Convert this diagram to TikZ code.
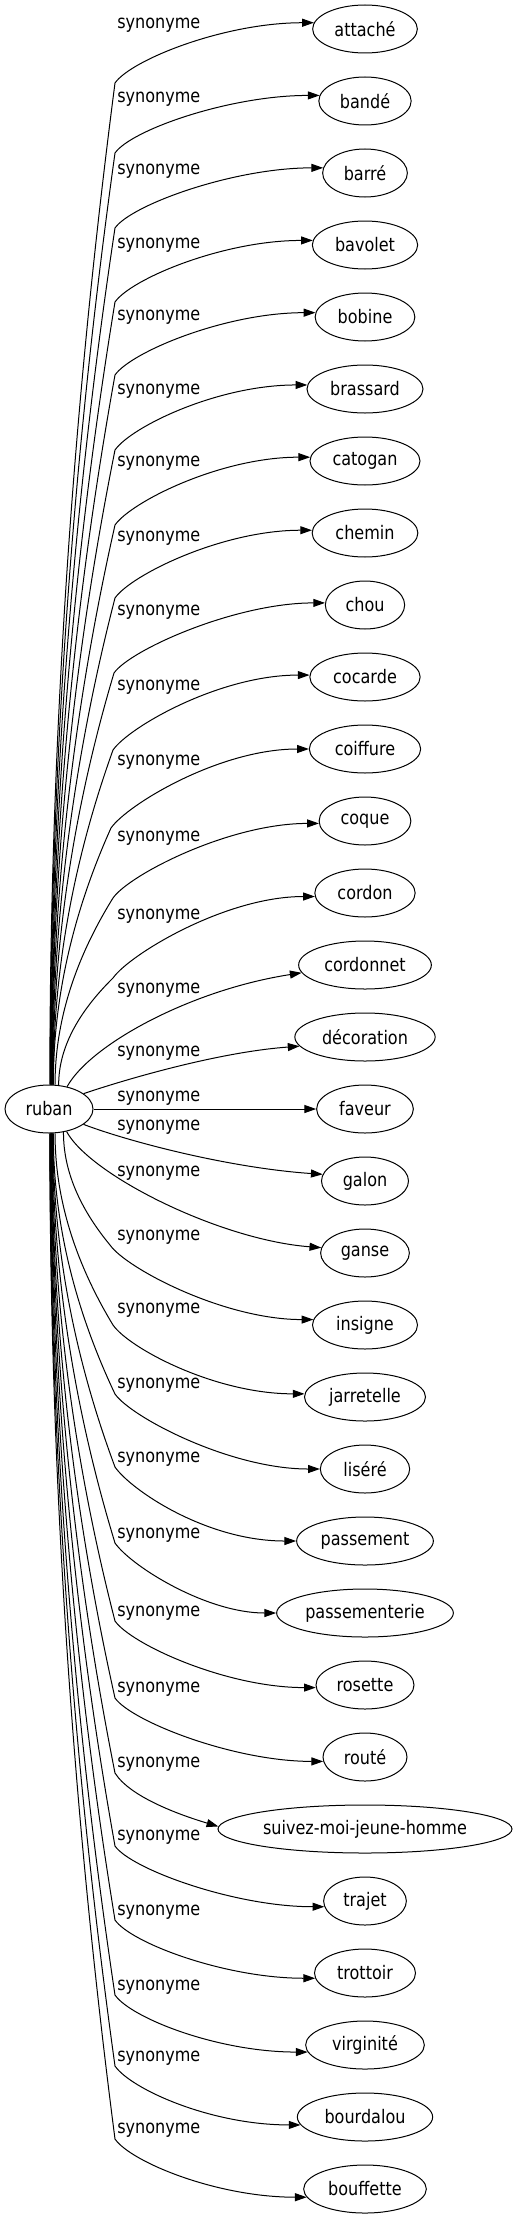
\documentclass[tikz,border=0pt]{standalone}
\usepackage{fontspec}
\setmainfont{DejaVu Sans}[FakeStretch=0.86]
\usetikzlibrary{shapes.geometric,arrows.meta,calc}

\tikzset{
  syn/.style={ellipse, draw, line width=0.75pt, inner sep=0pt, minimum height=36pt,
    font=\fontsize{14pt}{16pt}\selectfont},
  lab/.style={anchor=west, inner sep=0pt, font=\fontsize{14pt}{16pt}\selectfont},
  synedge/.style={draw, line width=0.75pt, -{Triangle[length=8.8pt,width=6pt]}}
}

% #1 target, #2 start angle on ruban, #3 Kx, #4 Ky, #5 dy at target, #6 half width, #7 sign, #8 b
\newcommand{\twoseg}[8]{%
  \pgfmathsetmacro{\qc}{cos(#2)}%
  \pgfmathsetmacro{\qs}{sin(#2)}%
  \pgfmathsetmacro{\qt}{1/sqrt((\qc/44)^2+(\qs/24)^2)}%
  \pgfmathsetmacro{\qSx}{49+\qt*\qc}%
  \pgfmathsetmacro{\qSy}{1109-\qt*\qs}%
  \pgfmathsetmacro{\qd}{\qSy-(#4)}%
  \pgfmathsetmacro{\qdx}{(#3)-\qSx}%
  \pgfmathsetmacro{\qAy}{\qSy-\qd/3}%
  \pgfmathsetmacro{\qBx}{(#3)-2*\qdx/3}%
  \pgfmathsetmacro{\qBy}{(#4)+\qd/3}%
  \pgfmathsetmacro{\qCx}{(#3)+16}%
  \pgfmathsetmacro{\qCy}{(#4)-23*(#7)}%
  \pgfmathsetmacro{\qE}{180+atan((#5)/((#6)*sqrt(1-((#5)/24)^2)))}%
  \draw[synedge] (ruban.#2) .. controls (\qSx,\qAy) and (\qBx,\qBy) .. (#3,#4)
     .. controls (\qCx,\qCy) and ($(#1.\qE)+(-#8,0)$) .. (#1.\qE);
}

\begin{document}
\begin{tikzpicture}[x=0.75pt,y=-0.75pt]
\useasboundingbox (0,0) rectangle (517,2219);

\node[syn, minimum width=66pt] (ruban) at (49,1109) {ruban};

\foreach \n/\t/\w [count=\i from 0] in {
  attache/attaché/104.7, bande/bandé/92.3, barre/barré/84.7, bavolet/bavolet/105.3,
  bobine/bobine/99.7, brassard/brassard/116, catogan/catogan/110, chemin/chemin/105.7,
  chou/chou/79.3, cocarde/cocarde/110.3, coiffure/coiffure/111.3, coque/coque/91.7,
  cordon/cordon/100.3, cordonnet/cordonnet/132.7, decoration/décoration/140.3,
  faveur/faveur/96.7, galon/galon/87, ganse/ganse/88.7, insigne/insigne/105,
  jarretelle/jarretelle/121, lisere/liséré/89.3, passement/passement/136.7,
  passementerie/passementerie/176.7, rosette/rosette/98, route/routé/84,
  suivez/suivez-moi-jeune-homme/294, trajet/trajet/82.7, trottoir/trottoir/101,
  virginite/virginité/118.7, bourdalou/bourdalou/135.3, bouffette/bouffette/122.7}
  \node[syn, minimum width=\w*0.75pt] (\n) at (365,29+72*\i) {\t};

\foreach \ly [count=\i from 0] in {25.5,99,171,245,317,391,463,538,612,687,762,838,916,990,1053,
  1098,1127,1173,1237,1310,1385,1459,1535,1613,1689,1764,1837,1912,1987,2058,2130}
  \node[lab] (lab\i) at (117,\ly) {synonyme};

% upper edges
\twoseg{attache}{88}{115}{83}{-6}{52.35}{1}{90}
\twoseg{bande}{87.2}{115}{153}{-5}{46.15}{1}{90}
\twoseg{barre}{86.4}{115}{228}{-4.5}{42.35}{1}{90}
\twoseg{bavolet}{85.6}{115}{302}{-4}{52.65}{1}{90}
\twoseg{bobine}{84.8}{115}{375}{-4}{49.85}{1}{90}
\twoseg{brassard}{84}{115}{450}{-3.4}{58}{1}{90}
\twoseg{catogan}{83.2}{115}{525}{-3}{55}{1}{90}
\twoseg{chemin}{82.4}{115}{598}{-2}{52.85}{1}{90}
\twoseg{chou}{81.6}{114}{673}{-2}{39.65}{1}{90}
\twoseg{cocarde}{80.8}{113}{750}{-1}{55.15}{1}{90}
\twoseg{coiffure}{80}{111}{828}{0}{55.65}{1}{90}
\twoseg{coque}{76}{113}{898}{2.5}{45.85}{1}{90}
\twoseg{cordon}{68}{113}{978}{4}{50.15}{1}{90}
\draw[synedge] (ruban.51) .. controls (90,1045) and (190,990) .. (cordonnet.187);
\draw[synedge] (ruban.24) .. controls (130,1078) and (220,1052) .. (decoration.188.6);

% middle
\draw[synedge] (ruban) -- (faveur);

% lower edges
\draw[synedge] (ruban.336) .. controls (130,1142) and (230,1168) .. (galon.171.9);
\draw[synedge] (ruban.308) .. controls (90,1175) and (220,1240) .. (ganse.173.4);
\twoseg{insigne}{302}{110}{1245}{-5}{52.5}{-1}{90}
\twoseg{jarretelle}{284}{113}{1325}{-3}{60.5}{-1}{90}
\twoseg{lisere}{280}{115}{1394}{0}{44.65}{-1}{90}
\twoseg{passement}{279.2}{115}{1467}{0}{68.35}{-1}{90}
\twoseg{passementerie}{278.4}{115}{1543}{0.5}{88.35}{-1}{70}
\twoseg{rosette}{277.6}{115}{1621}{3}{49}{-1}{90}
\twoseg{route}{276.8}{115}{1698}{5}{42}{-1}{90}
\draw[synedge] (ruban.276) .. controls (51.5,1346) and (72.7,1560) .. (115,1773)
   .. controls (130,1797) and (180,1815) .. (suivez.179.2);
\twoseg{trajet}{275.2}{115}{1846}{6}{41.35}{-1}{90}
\twoseg{trottoir}{274.4}{115}{1920}{6}{50.5}{-1}{90}
\twoseg{virginite}{273.6}{115}{1995}{7}{59.35}{-1}{90}
\twoseg{bourdalou}{272.8}{115}{2066}{8}{67.65}{-1}{90}
\twoseg{bouffette}{272}{115}{2139}{9}{61.35}{-1}{90}
\end{tikzpicture}
\end{document}
